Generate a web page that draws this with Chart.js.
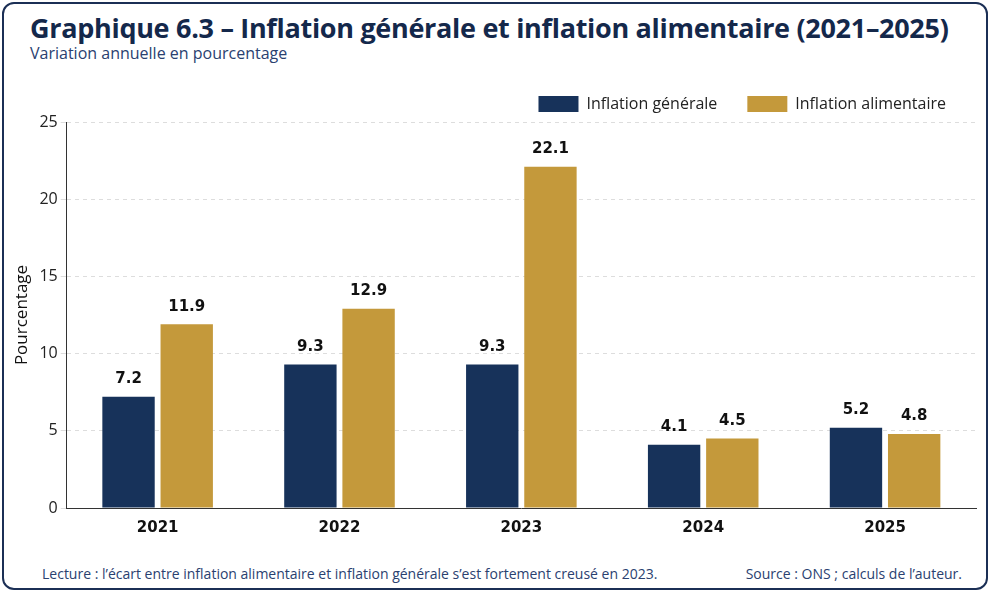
<!DOCTYPE html>
<html><head><meta charset="utf-8">
<script src="https://cdn.jsdelivr.net/npm/chart.js@4"></script>
<style>
body{margin:0;background:#fff;font-family:"Open Sans",sans-serif}
#card{position:absolute;left:2px;top:2px;width:986px;height:588px;border:2px solid #1b2f55;border-radius:12px;box-sizing:border-box;overflow:hidden}
#t{position:absolute;left:26px;top:5px;font:bold 27px "Open Sans";letter-spacing:-0.3px;color:#14284b;white-space:nowrap}
#s{position:absolute;left:26px;top:38px;font:16px "Open Sans";color:#2a4170}
#c{position:absolute;left:0;top:56px}
.f{position:absolute;top:560px;font:14px "Open Sans";color:#2a4170}
</style></head><body>
<div id="card">
<div id="t">Graphique 6.3 – Inflation générale et inflation alimentaire (2021–2025)</div>
<div id="s">Variation annuelle en pourcentage</div>
<div id="c"><canvas id="chart" width="986" height="480"></canvas></div>
<div class="f" style="left:38px">Lecture : l’écart entre inflation alimentaire et inflation générale s’est fortement creusé en 2023.</div>
<div class="f" style="right:24px">Source : ONS ; calculs de l’auteur.</div>
</div>
<script>
const years = ['2021', '2022', '2023', '2024', '2025']
const generale = [7.2, 9.3, 9.3, 4.1, 5.2]
const alimentaire = [11.9, 12.9, 22.1, 4.5, 4.8]

// étiquettes au-dessus des barres
const valueLabels = {
    id: 'valueLabels',
    afterDatasetsDraw(chart) {
        const ctx = chart.ctx
        ctx.save()
        ctx.font = 'bold 15px "DejaVu Sans"'
        ctx.fillStyle = '#111'
        ctx.textAlign = 'center'
        ctx.textBaseline = 'bottom'
        chart.data.datasets.forEach((ds, i) => {
            chart.getDatasetMeta(i).data.forEach((bar, j) => {
                ctx.fillText(ds.data[j].toFixed(1), bar.x, bar.y - 10)
            })
        })
        ctx.restore()
    }
}

new Chart(document.getElementById('chart'), {
    type: 'bar',
    data: {
        labels: years,
        datasets: [
            {label: 'Inflation générale', data: generale, backgroundColor: '#17325a', barPercentage: 0.9, categoryPercentage: 0.64},
            {label: 'Inflation alimentaire', data: alimentaire, backgroundColor: '#c4993b', barPercentage: 0.9, categoryPercentage: 0.64}
        ]
    },
    options: {
        responsive: false,
        animation: false,
        layout: {padding: {left: 4, right: 14, top: 6, bottom: 0}},
        plugins: {
            legend: {
                align: 'end',
                labels: {boxWidth: 40, boxHeight: 16, padding: 30, color: '#222', font: {family: 'Open Sans', size: 16}}
            },
            tooltip: {enabled: false}
        },
        scales: {
            x: {
                grid: {display: false},
                border: {color: '#333'},
                ticks: {color: '#111', font: {family: 'DejaVu Sans', size: 15, weight: 'bold'}}
            },
            y: {
                min: 0, max: 25,
                ticks: {stepSize: 5, color: '#222', font: {family: 'Open Sans', size: 16}},
                grid: {color: '#ddd', tickLength: 6},
                border: {dash: [4, 4], color: '#333'},
                title: {display: true, text: 'Pourcentage', color: '#111', font: {family: 'Open Sans', size: 17}}
            }
        }
    },
    plugins: [valueLabels]
})
</script>
</body></html>
